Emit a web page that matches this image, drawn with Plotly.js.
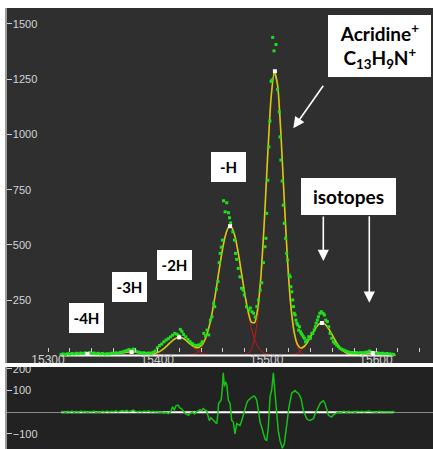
<!DOCTYPE html>
<html><head><meta charset="utf-8">
<script src="https://cdn.plot.ly/plotly-3.0.1.min.js"></script>
<style>html,body{margin:0;padding:0;background:#fff;}#chart{width:433px;height:449px;}</style>
</head><body><div id="chart"></div>
<script>
// ---- measured spectrum (green points) ----
const dataMass = [
15312,15314,15316,15318,15320,15322,15324,15326,15328,15330,
15332,15334,15336,15338,15340,15342,15344,15346,15348,15350,
15352,15354,15356,15358,15360,15362,15364,15366,15368,15370,
15372,15374,15376,15378,15380,15382,15384,15386,15388,15390,
15392,15394,15396,15398,15400,15402,15404,15406,15408,15410,
15412,15414,15416,15418,15419.5,15421,15422.5,15424,15426,15428,
15430,15432,15434,15436,15438,15440,15441,15442.5,15444,15445.5,
15447,15448.5,15450,15451.5,15452.5,15454,15455.5,15456.5,15457.5,15458.5,
15459.5,15460.5,15462,15463.5,15465,15466,15467,15469,15470.5,15471.5,
15472.5,15474,15475.5,15477,15478.5,15479.5,15481.5,15483.5,15485,15486.5,
15488,15489.5,15491,15492.5,15494,15495.5,15497,15498.5,15499.3,15500,
15501,15502,15503,15504,15504.8,15505.5,15506.7,15508.5,15510,15511.5,
15512.2,15513,15514.2,15515.1,15516,15517.3,15518.3,15519.2,15520.5,15521.5,
15522.2,15523,15523.8,15524.5,15525.2,15526,15526.8,15527.6,15528.4,15529.2,
15530,15530.8,15531.6,15532.5,15533.5,15534.5,15535.5,15537,15538.5,15540,
15541.2,15542.2,15543.5,15544.5,15545.3,15546.3,15547.3,15548.6,15550,15551.5,
15552.8,15554,15555.5,15556.8,15558,15559.5,15561,15562.5,15564,15565.5,
15567,15568.5,15570,15572,15574,15576,15578,15580,15582,15584,
15586,15588,15590,15592,15594,15596,15598,15600,15602,15604,
15606,15608,15610,15612,15614,15616];
const dataValue = [
5,7,4,8,6,9,7,10,8,11,
9,12,10,13,9,11,8,10,7,9,
6,8,7,10,9,12,10,14,16,19,
22,27,24,29,20,16,13,11,12,9,
11,10,14,20,35,45,52,62,70,76,
84,92,100,96,90,118,108,95,84,72,
62,54,47,45,48,52,62,100,88,115,
93,160,175,236,221,300,334,420,462,490,
522,700,650,691,646,623,600,560,522,462,
435,394,356,304,296,274,221,206,215,198,
191,174,221,251,296,329,420,492,530,643,
793,944,1061,1240,1246,1439,1378,1407,1203,1102,
989,884,789,680,598,530,462,432,364,356,
311,288,251,221,191,183,160,146,138,115,
130,108,100,93,85,78,62,70,85,78,
100,100,115,130,146,160,175,191,198,191,
183,160,153,130,100,78,62,55,47,40,
33,28,25,21,17,14,13,12,13,11,
13,12,14,16,20,15,12,13,11,9,
10,8,9,7,6,5];

// ---- fitted sum (yellow) ----
const fitMass = [
15312,15315,15318,15321,15324,15327,15330,15333,15336,15339,
15342,15345,15348,15351,15354,15357,15360,15363,15366,15369,
15372,15375,15378,15381,15384,15387,15390,15393,15396,15399,
15402,15405,15408,15411,15414,15417,15420,15423,15426,15429,
15432,15435,15438,15441,15444,15447,15450,15453,15456,15459,
15462,15465,15468,15471,15474,15477,15480,15483,15486,15489,
15492,15495,15498,15501,15504,15507,15510,15513,15516,15519,
15522,15525,15528,15531,15534,15537,15540,15543,15546,15549,
15552,15555,15558,15561,15564,15567,15570,15573,15576,15579,
15582,15585,15588,15591,15594,15597,15600,15603,15606,15609,
15612,15615,15618];
const fitValue = [
0.9,1.5,2.3,3.2,4.2,5.3,6.2,6.8,7.0,6.8,
6.2,5.6,4.8,4.3,4.3,4.8,6.1,8.1,10.4,12.7,
14.7,15.9,15.9,14.7,12.7,10.1,8.4,7.3,7.9,11.0,
17.3,27.2,40.2,54.7,68.5,78.4,82.0,78.6,69.2,56.5,
44.2,36.3,36.6,48.8,76.6,123.7,190.9,275.5,371.0,463.7,
538.0,579.6,579.6,538.0,463.7,371.6,278.1,199.3,150.4,149.0,
218.8,376.4,621.7,913.3,1164.8,1283.0,1222.0,1003.0,710.0,434.8,
230.1,109.0,51.1,34.0,39.6,57.9,82.8,109.7,132.3,145.3,
145.3,132.3,109.7,82.8,56.9,35.6,20.6,11.1,6.2,4.3,
4.4,5.4,7.3,9.2,10.5,11.0,10.5,9.2,7.3,5.4,
3.6,2.2,1.2];

// ---- fitted components (red), first mass of each on the fit grid ----
const compNames = ['-4H','-3H','-2H','-H','M','iso1','iso2'];
const compStart = [15312,15336,15378,15423,15471,15510,15558];
const comp4H = [0.9,1.5,2.3,3.2,4.2,5.3,6.2,6.8,7.0,6.8,6.2,5.3,4.2,3.2,2.3,1.5,0.9,0.6,0.3,0.1,0,0];
const comp3H = [0,0,0.1,0.3,0.6,1.1,2.0,3.3,5.2,7.5,10.1,12.7,14.7,15.9,15.9,14.7,12.7,10.1,7.5,5.2,3.3,2.0,1.1,0.6,0.3,0.1,0,0];
const comp2H = [0,0,0.1,0.35,0.9,2.1,4.6,9.0,16.2,26.6,39.9,54.7,68.5,78.4,82,78.4,68.5,54.7,39.9,26.6,16.2,9.0,4.6,2.1,0.9,0.35,0.1,0,0];
const compH = [0.2,0.7,1.8,4.3,9.7,20.4,39.8,72,121.6,190,275.5,371,463.7,538,579.6,579.6,538,463.7,371,275.5,190,121.6,72,39.8,20.4,9.7,4.3,1.8,0.7,0.2];
const compMain = [0,0.1,0.6,2.6,9.3,28.8,77,179,356,612,909,1163,1283,1222,1003,710,434,228,104,40.6,13.7,4.0,1.0,0.2,0,0];
const compIso1 = [0,0,0.3,0.8,2.1,5.0,10.5,20.3,35.6,56.9,82.8,109.7,132.3,145.3,145.3,132.3,109.7,82.8,56.9,35.6,20.3,10.5,5.0,2.1,0.8,0.3,0,0];
const compIso2 = [0,0,0,0.1,0.3,0.6,1.2,2.2,3.6,5.4,7.3,9.2,10.5,11,10.5,9.2,7.3,5.4,3.6,2.2,1.2];
const compValues = [comp4H,comp3H,comp2H,compH,compMain,compIso1,compIso2];

// ---- peak centres (white dots) ----
const centerMass = [15336,15376.5,15420,15466.5,15507.5,15550.5,15597];
const centerHeight = [7,15.9,82,585,1286,147,11];

// ---- residuals (lower panel) ----
const resMass = [
15312,15314,15316,15318,15320,15322,15324,15326,15328,15330,
15332,15334,15336,15338,15340,15342,15344,15346,15348,15350,
15352,15354,15356,15358,15360,15362,15364,15366,15368,15370,
15372,15374,15376,15378,15380,15382,15384,15386,15388,15390,
15392,15394,15396,15398,15400,15402,15404,15406,15408,15410,
15412,15414,15415.5,15417,15419,15420.5,15422,15424,15425.5,15427,
15428.5,15430,15432,15434,15436,15437.5,15439,15440.5,15442,15443.5,
15445,15446.5,15447.5,15449,15450,15451.5,15453,15454.3,15455.3,15456,
15457.3,15458.5,15459.5,15460.3,15461.3,15462.5,15463.5,15464.9,15466.5,15468,
15469.5,15471,15472.6,15474,15475.6,15477.2,15479.5,15481.7,15483,15484.8,
15486.5,15487.8,15489.3,15490.9,15492.4,15493.9,15495.5,15496.9,15498.5,15500,
15501.5,15502.3,15503.1,15504.6,15505.5,15506.1,15507.6,15509.2,15510.6,15512.2,
15514.3,15516.1,15518.3,15520.4,15522.9,15524.5,15525.9,15527.5,15528.9,15530,
15531.4,15533.5,15535,15536.6,15538,15539.6,15541,15542.7,15544.3,15545.8,
15547.3,15548.8,15550.3,15551.8,15553,15554,15555.2,15556.4,15558,15559.5,
15561,15562.5,15564,15565.5,15567,15569,15571,15573,15575,15577,
15579,15581,15583,15585,15587,15589,15591,15593,15595,15597,
15599,15601,15603,15605,15607,15609,15611,15613,15615,15617];
const resValue = [
0,3,-2,4,1,5,-1,3,0,6,
2,4,-2,3,1,5,-1,2,0,4,
1,6,2,5,3,7,2,5,8,4,
9,3,6,10,4,1,5,2,6,3,
7,2,5,1,4,-2,2,-4,0,-6,
1,25,10,30,33,20,17,4,-6,-10,
-14,-5,1,-8,4,6,12,8,17,10,
9,-20,-38,-25,-30,-40,-45,-53,-10,41,
48,60,120,182,119,140,127,56,41,-38,
-45,-100,-53,-58,-61,-38,9,41,55,64,
70,75,72,56,9,-45,-70,-92,-124,-131,
-69,0,72,103,140,182,88,-6,-85,-131,
-166,-147,-53,25,88,95,100,92,88,78,
64,9,-15,-30,-35,-38,-34,-30,-8,9,
25,41,48,53,45,33,10,-14,-20,-22,
-12,-6,-2,2,-4,3,5,-2,4,1,
3,-1,4,2,5,1,3,6,4,2,
3,0,4,1,3,2,4,1,3,2];

// ---- axis ticks ----
const xTickVals = [15300,15400,15500,15600];
const yTickVals = [250,500,750,1000,1250,1500];
const y2TickVals = [-100,100,200];
const baseRange = [dataMass[0], dataMass[dataMass.length-1]];

const traces = [];
compValues.forEach((vals, i) => {
  const i0 = fitMass.indexOf(compStart[i]);
  traces.push({type:'scatter', mode:'lines', name:compNames[i],
    x: fitMass.slice(i0, i0 + vals.length), y: vals,
    xaxis:'x', yaxis:'y', line:{color:'#d01414', width:1, shape:'spline', smoothing:0.6},
    hoverinfo:'skip'});
});
traces.push({type:'scatter', mode:'lines', x: fitMass, y: fitValue, xaxis:'x', yaxis:'y',
  line:{color:'#d2cc10', width:1.6, shape:'spline', smoothing:0.6}});
traces.push({type:'scatter', mode:'lines', x: baseRange, y:[0,0], xaxis:'x', yaxis:'y',
  line:{color:'#ffffff', width:2}});
traces.push({type:'scatter', mode:'markers', x: dataMass, y: dataValue, xaxis:'x', yaxis:'y',
  marker:{symbol:'square', size:3, color:'#1fe01f', line:{width:0}}});
traces.push({type:'scatter', mode:'markers', x: centerMass, y: centerHeight, xaxis:'x3', yaxis:'y',
  marker:{symbol:'square', size:4, color:'#ffffff', line:{width:0}}});
traces.push({type:'scatter', mode:'lines', x: baseRange, y:[0,0], xaxis:'x2', yaxis:'y2',
  line:{color:'#ffffff', width:2}});
traces.push({type:'scatter', mode:'lines', x: resMass, y: resValue, xaxis:'x2', yaxis:'y2',
  line:{color:'#14c414', width:1.5}});

const tickFont = {family:'Liberation Sans, Arial, sans-serif', size:11, color:'#d4d4d4'};
const xTickFont = {family:'Liberation Sans, Arial, sans-serif', size:12, color:'#d0d0d0'};
const xr = [15262.5, 15652.1];
const px = v => (v - 7) / 426;
const py = v => (449 - v) / 441;
const boxFont = s => ({family:'Lato, Open Sans, sans-serif', size:s, color:'#000000', weight:'bold'});
const box = (cx, cy, text, w, h, s) => ({xref:'paper', yref:'paper', x:px(cx), y:py(cy),
  xanchor:'center', yanchor:'middle', text:text, showarrow:false, width:w, height:h,
  bgcolor:'#ffffff', borderpad:0, borderwidth:0, font:boxFont(s)});
const arrow = (tx, ty, ax, ay) => ({xref:'paper', yref:'paper', x:px(tx), y:py(ty),
  text:'', showarrow:true, ax:ax, ay:ay, arrowhead:2, arrowsize:1.4, arrowwidth:1.6, arrowcolor:'#ffffff'});

const layout = {
  width:433, height:449,
  margin:{l:7, r:0, t:8, b:0, pad:0},
  paper_bgcolor:'#ffffff', plot_bgcolor:'#2f2f2f',
  showlegend:false, hovermode:false,
  xaxis:{domain:[0,1], anchor:'y', range:xr, showgrid:false, zeroline:false, showline:false,
    ticks:'', tickvals:xTickVals, tickformat:'d', ticklabelposition:'inside', ticklabelstandoff:-6, tickfont:xTickFont},
  xaxis3:{overlaying:'x', anchor:'free', position:py(346.5), side:'bottom', range:xr,
    showgrid:false, zeroline:false, showline:false, showticklabels:false,
    ticks:'outside', ticklen:4, tickwidth:1, tickcolor:'#d0d0d0', tick0:15300, dtick:20},
  yaxis:{domain:[py(363),1], anchor:'x', range:[-34,1572], showgrid:false,
    zeroline:true, zerolinecolor:'#9a9a9a', zerolinewidth:2,
    showline:true, linecolor:'#9a9a9a', linewidth:2,
    ticks:'inside', ticklen:5, tickwidth:1, tickcolor:'#d0d0d0',
    tickvals:yTickVals, ticklabelposition:'inside', tickfont:tickFont},
  xaxis2:{domain:[0,1], anchor:'y2', range:xr, showgrid:false, zeroline:false, showline:false,
    ticks:'', showticklabels:false},
  yaxis2:{domain:[0,py(367)], anchor:'x2', range:[-169.5,209], showgrid:false,
    zeroline:true, zerolinecolor:'#8a8a8a', zerolinewidth:1.5,
    showline:true, linecolor:'#9a9a9a', linewidth:2,
    ticks:'inside', ticklen:5, tickwidth:1, tickcolor:'#d0d0d0',
    tickvals:y2TickVals, ticklabelposition:'inside', ticklabeloverflow:'allow', tickfont:tickFont},
  shapes:[
    {type:'rect', xref:'x2 domain', yref:'y2 domain', x0:0, x1:1, y0:0, y1:1,
      fillcolor:'#222222', line:{width:0}, layer:'below'},
    {type:'rect', xref:'paper', yref:'paper', x0:px(8), x1:1, y0:py(367), y1:py(363),
      fillcolor:'#ffffff', line:{width:0}, layer:'above'}
  ],
  annotations:[
    box(86.5, 318, '-4H', 35, 30, 15),
    box(129.5, 287, '-3H', 35, 30, 15),
    box(174.5, 265, '-2H', 35, 30, 15),
    box(228.5, 167, '-H', 35, 30, 15),
    box(379.5, 46, 'Acridine<sup>+</sup><br>C<sub>13</sub>H<sub>9</sub>N<sup>+</sup>', 103, 62, 19),
    box(348.5, 196.5, 'isotopes', 95, 37, 19),
    arrow(293.3, 128.3, 31, -44),
    arrow(323.3, 261, 0, -46),
    arrow(369.3, 302.7, 0, -88)
  ]
};

Plotly.newPlot('chart', traces, layout, {staticPlot:true, displayModeBar:false});
</script></body></html>
